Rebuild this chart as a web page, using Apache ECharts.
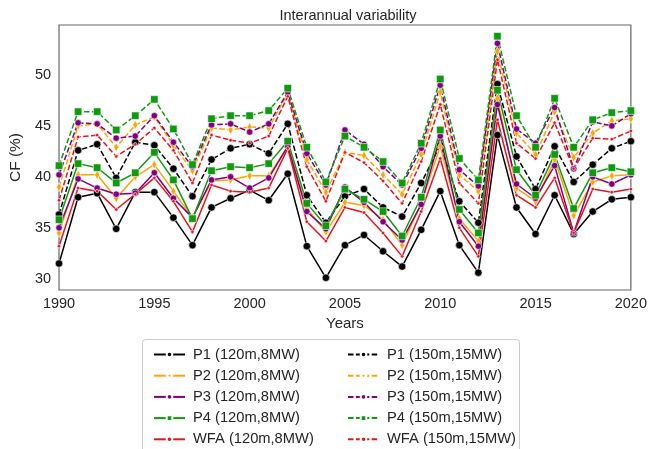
<!DOCTYPE html>
<html><head><meta charset="utf-8">
<script src="https://cdn.jsdelivr.net/npm/echarts@6/dist/echarts.min.js"></script>
<style>html,body{margin:0;padding:0;background:#fff}#c{width:650px;height:449px}</style>
</head><body><div id="c"></div>
<script>
const years = [1990,1991,1992,1993,1994,1995,1996,1997,1998,1999,2000,2001,2002,2003,2004,2005,2006,2007,2008,2009,2010,2011,2012,2013,2014,2015,2016,2017,2018,2019,2020];
const yTicks = [30,35,40,45,50];
const xTicks = [1990,1995,2000,2005,2010,2015,2020];

const P1_120 = [31.5,38.0,38.4,34.9,38.5,38.5,36.0,33.3,37.0,37.9,38.7,37.7,40.3,33.2,30.1,33.3,34.3,32.7,31.2,34.8,38.6,33.3,30.6,44.1,37.0,34.4,38.2,34.4,36.6,37.8,38.0];
const P1_150 = [36.3,42.6,43.2,39.9,43.4,43.1,40.8,38.1,41.7,42.8,43.2,42.3,45.2,38.2,35.5,38.1,38.8,37.0,36.1,39.4,43.1,37.6,35.5,49.1,42.0,38.8,43.0,39.5,41.2,42.8,43.5];
const P2_120 = [34.5,40.2,40.2,37.9,40.0,41.2,38.6,36.0,39.6,39.7,40.1,40.1,43.0,36.9,34.6,37.5,37.2,35.8,33.3,37.4,43.0,35.9,33.7,47.7,38.9,37.6,41.7,36.2,39.5,40.1,40.2];
const P2_150 = [39.0,45.0,45.2,42.9,45.1,45.9,43.1,40.6,44.8,44.6,44.9,44.8,48.2,41.7,38.5,42.4,42.1,40.2,38.3,42.2,48.3,40.2,38.6,52.3,44.3,42.2,46.4,41.9,44.3,45.5,45.7];
const P3_120 = [35.0,39.8,38.9,38.3,38.4,40.4,37.9,36.0,39.7,40.0,38.9,39.9,43.0,36.6,34.9,39.0,37.5,35.6,33.8,37.3,44.0,35.6,33.2,47.1,39.3,37.9,41.1,34.5,40.0,39.3,40.2];
const P3_150 = [40.2,45.3,45.2,43.8,44.0,46.0,43.4,41.0,45.1,45.2,44.4,45.2,48.3,42.3,39.2,44.6,43.2,41.0,39.2,42.8,49.0,40.7,39.1,53.1,44.7,43.3,46.8,40.8,45.4,45.0,46.2];
const P4_120 = [35.8,41.3,40.9,39.4,40.4,42.4,39.7,35.9,40.6,41.0,40.9,41.3,43.5,37.4,35.2,38.8,37.8,36.6,34.2,38.0,44.6,36.8,34.5,48.5,40.7,38.2,42.2,36.9,40.4,40.9,40.5];
const P4_150 = [41.1,46.4,46.4,44.6,46.0,47.6,44.7,41.2,45.7,46.0,46.0,46.5,48.7,42.9,39.5,44.0,42.9,41.5,39.4,43.3,49.6,41.8,39.7,53.8,46.0,42.9,47.7,42.9,45.6,46.3,46.5];
const WFA_120 = [33.2,38.9,38.6,36.8,38.3,39.9,37.6,34.6,39.2,38.6,38.5,38.9,42.8,35.6,33.7,37.0,36.5,34.5,32.2,36.6,41.8,35.0,32.2,45.6,38.2,37.0,39.9,34.5,38.8,38.5,38.8];
const WFA_150 = [37.7,43.9,44.1,42.0,43.2,44.8,42.6,39.4,44.1,43.6,43.3,44.0,47.9,41.0,37.6,42.4,41.4,39.6,37.4,41.5,47.1,39.4,37.4,51.5,43.3,41.8,45.3,40.8,43.8,43.7,44.5];

const namesA = ['P1 (120m,8MW)','P2 (120m,8MW)','P3 (120m,8MW)','P4 (120m,8MW)','WFA (120m,8MW)'];
const namesB = ['P1 (150m,15MW)','P2 (150m,15MW)','P3 (150m,15MW)','P4 (150m,15MW)','WFA (150m,15MW)'];

const colors = ['#000000','#FFA500','#800080','#109A10','#E8141C'];
const thinDiamond = 'path://M0,-1L0.55,0L0,1L-0.55,0Z';
const symbols = ['circle', thinDiamond, 'circle', 'rect', 'circle'];
const sizes = [7.5, [5,9], 6.5, 7.5, 3.5];
const solidVals = [P1_120, P2_120, P3_120, P4_120, WFA_120];
const dashVals = [P1_150, P2_150, P3_150, P4_150, WFA_150];

const series = [];
for (let k = 0; k < 5; k++) {
  [[namesA[k], solidVals[k], 'solid'], [namesB[k], dashVals[k], [5.5,2.4]]].forEach(([nm, vals, tp]) => {
    series.push({
      name: nm, type: 'line',
      data: years.map((y, i) => [y, vals[i]]),
      symbol: symbols[k], symbolSize: sizes[k], showSymbol: true,
      lineStyle: { color: colors[k], width: 1.5, type: tp },
      itemStyle: { color: colors[k], borderColor: '#ffffff', borderWidth: 0.6 },
      emphasis: { disabled: true }, animation: false
    });
  });
}

const txt = '#262626';
const font = 'Liberation Sans, Arial, sans-serif';
const legendCommon = {
  orient: 'vertical', top: 342, height: 160, itemWidth: 31, itemHeight: 7, itemGap: 6.2,
  textStyle: { fontSize: 14.7, color: txt, fontFamily: font, lineHeight: 15, padding: [0,0,0,3] },
  selectedMode: false
};

const chart = echarts.init(document.getElementById('c'), null, { renderer: 'canvas' });
chart.setOption({
  backgroundColor: '#fff',
  animation: false,
  title: { text: 'Interannual variability', left: 343, textAlign: 'center', top: 3,
    textStyle: { fontSize: 14.5, fontWeight: 'normal', color: txt, fontFamily: font } },
  grid: { left: 52, right: 16, top: 25, bottom: 159, show: true, borderColor: '#666', borderWidth: 1.2 },
  xAxis: {
    type: 'value', min: 1990, max: 2020, interval: 5,
    name: 'Years', nameLocation: 'middle', nameGap: 23,
    nameTextStyle: { fontSize: 15, color: txt, fontFamily: font },
    axisLine: { show: false }, axisTick: { show: false }, splitLine: { show: false },
    axisLabel: { fontSize: 14.5, color: txt, fontFamily: font, margin: 6, formatter: v => String(v),
      customValues: xTicks }
  },
  yAxis: {
    type: 'value', min: 28.9, max: 54.9,
    name: 'CF (%)', nameLocation: 'middle', nameGap: 27, nameRotate: 90,
    nameTextStyle: { fontSize: 15.5, color: txt, fontFamily: font },
    axisLine: { show: false }, axisTick: { show: false }, splitLine: { show: false },
    axisLabel: { fontSize: 14.5, color: txt, fontFamily: font, margin: 8, customValues: yTicks }
  },
  legend: [
    Object.assign({ left: 148, data: namesA }, legendCommon),
    Object.assign({ left: 342, data: namesB }, legendCommon)
  ],
  graphic: [{
    type: 'rect', z: -1,
    shape: { x: 142.5, y: 339.5, width: 377, height: 130, r: 3 },
    style: { fill: '#fff', stroke: '#cccccc', lineWidth: 1 }
  }],
  series: series
});
</script></body></html>
